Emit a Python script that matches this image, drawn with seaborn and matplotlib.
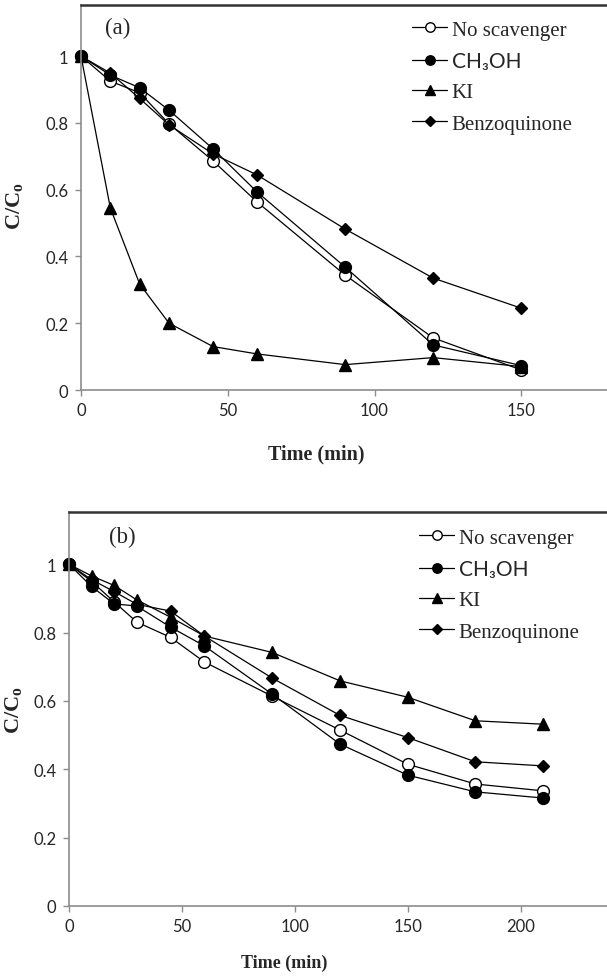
import numpy as np
import pandas as pd
import seaborn as sns
import matplotlib.pyplot as plt

# panel (a)
time_a = [0, 10, 20, 30, 45, 60, 90, 120, 150]
noscav_a = [1.0, 0.925, 0.89, 0.797, 0.686, 0.563, 0.344, 0.156, 0.06]
ch3oh_a = [1.0, 0.943, 0.905, 0.838, 0.722, 0.593, 0.368, 0.135, 0.073]
ki_a = [1.0, 0.545, 0.317, 0.20, 0.13, 0.108, 0.076, 0.097, 0.07]
benzo_a = [1.0, 0.949, 0.873, 0.794, 0.707, 0.644, 0.482, 0.335, 0.245]

# panel (b)
time_b = [0, 10, 20, 30, 45, 60, 90, 120, 150, 180, 210]
noscav_b = [1.0, 0.95, 0.89, 0.831, 0.786, 0.714, 0.614, 0.515, 0.415, 0.357, 0.337]
ch3oh_b = [1.0, 0.935, 0.884, 0.878, 0.816, 0.761, 0.62, 0.474, 0.383, 0.334, 0.316]
ki_b = [1.0, 0.966, 0.938, 0.896, 0.845, 0.79, 0.742, 0.659, 0.611, 0.542, 0.532]
benzo_b = [1.0, 0.955, 0.92, 0.883, 0.863, 0.79, 0.667, 0.558, 0.493, 0.422, 0.41]

labels = ['No scavenger', 'CH\u2083OH', 'KI', 'Benzoquinone']
yticks = [0, 0.2, 0.4, 0.6, 0.8, 1]
ytick_labels = ['0', '0.2', '0.4', '0.6', '0.8', '1']

sns.set_style('white')
plt.rcParams['font.family'] = ['Liberation Serif', 'DejaVu Serif']
plt.rcParams['mathtext.fontset'] = 'custom'
plt.rcParams['mathtext.rm'] = 'Liberation Serif'

W, H = 607, 978
fig = plt.figure(figsize=(W / 100, H / 100), dpi=100)
ax1 = fig.add_axes([81 / W, 1 - 391 / H, 526 / W, 385 / H])
ax2 = fig.add_axes([69 / W, 1 - 907 / H, 538 / W, 394 / H])

styles = [('o', 'white', 8.5), ('o', 'black', 8.5), ('^', 'black', 9), ('D', 'black', 6.5)]
tick_font = ['Lato', 'DejaVu Sans']


def draw(ax, t, series, xmax, xticks):
    for vals, lab, (mk, fc, ms) in zip(series, labels, styles):
        sns.lineplot(x=t, y=vals, ax=ax, color='black', lw=0.9, marker=mk,
                     markerfacecolor=fc, markeredgecolor='black', markeredgewidth=1,
                     markersize=ms, label=lab, clip_on=False)
    ax.set_xlim(0, xmax)
    ax.set_ylim(0, 1.153)
    ax.set_xticks(xticks)
    ax.set_yticks(yticks)
    ax.set_yticklabels(ytick_labels)
    ax.spines['right'].set_visible(False)
    ax.spines['top'].set_color('#333333')
    ax.spines['top'].set_linewidth(1.8)
    for s in ['left', 'bottom']:
        ax.spines[s].set_color('#8c8c8c')
        ax.spines[s].set_linewidth(1.2)
    ax.tick_params(direction='out', length=4, width=1, color='#8c8c8c',
                   labelsize=12, left=True, bottom=True, pad=5)
    for tl in ax.get_xticklabels() + ax.get_yticklabels():
        tl.set_fontfamily(tick_font)
    ax.set_ylabel(r'C/C$_\mathregular{o}$', fontsize=16, fontweight='bold',
                  rotation=90, va='center', ha='center')


draw(ax1, time_a, [noscav_a, ch3oh_a, ki_a, benzo_a], 179.2, [0, 50, 100, 150])
draw(ax2, time_b, [noscav_b, ch3oh_b, ki_b, benzo_b], 238.3, [0, 50, 100, 150, 200])

ax1.set_xlabel('Time (min)', fontsize=14.5, fontweight='bold', va='center')
ax1.xaxis.set_label_coords(0.447, -0.166)
ax1.yaxis.set_label_coords(-0.125, 0.48)
ax2.set_xlabel('Time (min)', fontsize=13, fontweight='bold', va='center')
ax2.xaxis.set_label_coords(0.40, -0.142)
ax2.yaxis.set_label_coords(-0.102, 0.5)

fig.text(118 / W, 1 - 28 / H, '(a)', fontsize=16.5, ha='center', va='center')
fig.text(122 / W, 1 - 537 / H, '(b)', fontsize=16.5, ha='center', va='center')

for ax, (lx, ly) in [(ax1, (412, 21)), (ax2, (419, 529))]:
    leg = ax.legend(loc='upper left', bbox_to_anchor=(lx / W, 1 - ly / H),
                    bbox_transform=fig.transFigure, frameon=False, fontsize=15,
                    handlelength=1.7, handletextpad=0.2, labelspacing=0.56,
                    borderpad=0, borderaxespad=0, markerscale=0.8)
    leg.get_texts()[1].set_fontfamily(['Lato', 'DejaVu Sans'])

fig.savefig('out.png', dpi=100)
